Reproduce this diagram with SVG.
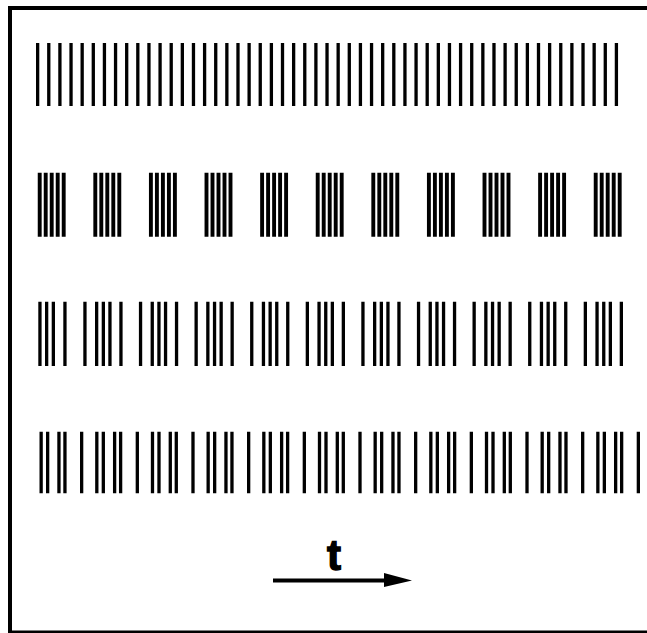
<svg xmlns="http://www.w3.org/2000/svg" xmlns:xlink="http://www.w3.org/1999/xlink" width="647" height="633" viewBox="0 0 647 633">
<style>
.bar{stroke:#000;stroke-width:3.3;fill:none}
.bar2{stroke:#000;stroke-width:3.9;fill:none}
.frame{stroke:#000;fill:none}
.lbl{font-family:"Liberation Sans",Arial,sans-serif;font-weight:bold;font-size:42px;fill:#000;stroke:#000;stroke-width:1.4}
</style>
<defs>
<path id="burst" class="bar2" d="M0 172.7V236.7M6 172.7V236.7M12 172.7V236.7M18 172.7V236.7M24 172.7V236.7"/>
<path id="r3" class="bar" d="M0 301.7V366M11.7 301.7V366M18.4 301.7V366M25 301.7V366M36 301.7V366"/>
<path id="r4" class="bar" d="M-40.5 431.7V493.3M-34 431.7V493.3M-22.7 431.7V493.3M-16.7 431.7V493.3M0 431.7V493.3"/>
</defs>
<rect width="647" height="633" fill="#fff"/>
<g id="frame">
<path class="frame" stroke-width="4" d="M10 6V633"/>
<path class="frame" stroke-width="4" d="M8 8H647"/>
<path class="frame" stroke-width="2.5" d="M8 631.7H647"/>
</g>
<g id="row1">
<path class="bar" d="M37.65 43V106M48.78 43V106M59.91 43V106M71.04 43V106M82.17 43V106M93.3 43V106M104.43 43V106M115.56 43V106M126.69 43V106M137.82 43V106M148.95 43V106M160.08 43V106M171.21 43V106M182.34 43V106M193.47 43V106M204.6 43V106M215.73 43V106M226.86 43V106M237.99 43V106M249.12 43V106M260.25 43V106M271.38 43V106M282.51 43V106M293.64 43V106M304.77 43V106M315.9 43V106M327.03 43V106M338.16 43V106M349.29 43V106M360.42 43V106M371.55 43V106M382.68 43V106M393.81 43V106M404.94 43V106M416.07 43V106M427.2 43V106M438.33 43V106M449.46 43V106M460.59 43V106M471.72 43V106M482.85 43V106M493.98 43V106M505.11 43V106M516.24 43V106M527.37 43V106M538.5 43V106M549.63 43V106M560.76 43V106M571.89 43V106M583.02 43V106M594.15 43V106M605.28 43V106M616.41 43V106"/>
</g>
<g id="row2">
<use href="#burst" x="39.7"/><use href="#burst" x="95.3"/><use href="#burst" x="150.9"/><use href="#burst" x="206.5"/><use href="#burst" x="262.1"/><use href="#burst" x="317.7"/><use href="#burst" x="373.3"/><use href="#burst" x="428.9"/><use href="#burst" x="484.5"/><use href="#burst" x="540.1"/><use href="#burst" x="595.7"/>
</g>
<g id="row3">
<path class="bar" d="M39.95 301.7V366M46.65 301.7V366M53.35 301.7V366M64.95 301.7V366"/>
<use href="#r3" x="84.95"/><use href="#r3" x="140.55"/><use href="#r3" x="196.15"/><use href="#r3" x="251.75"/><use href="#r3" x="307.35"/><use href="#r3" x="362.95"/><use href="#r3" x="418.55"/><use href="#r3" x="474.15"/><use href="#r3" x="529.75"/><use href="#r3" x="585.35"/>
</g>
<g id="row4">
<use href="#r4" x="81.65"/><use href="#r4" x="137.32"/><use href="#r4" x="192.99"/><use href="#r4" x="248.66"/><use href="#r4" x="304.33"/><use href="#r4" x="360"/><use href="#r4" x="415.67"/><use href="#r4" x="471.34"/><use href="#r4" x="527.01"/><use href="#r4" x="582.68"/><use href="#r4" x="638.35"/>
</g>
<g id="axis">
<path d="M273 580.5H386" stroke="#000" stroke-width="4.2" fill="none"/>
<path d="M384 573L412 580.5L384 587z" fill="#000"/>
<text class="lbl" x="334" y="570" text-anchor="middle">t</text>
</g>
</svg>
